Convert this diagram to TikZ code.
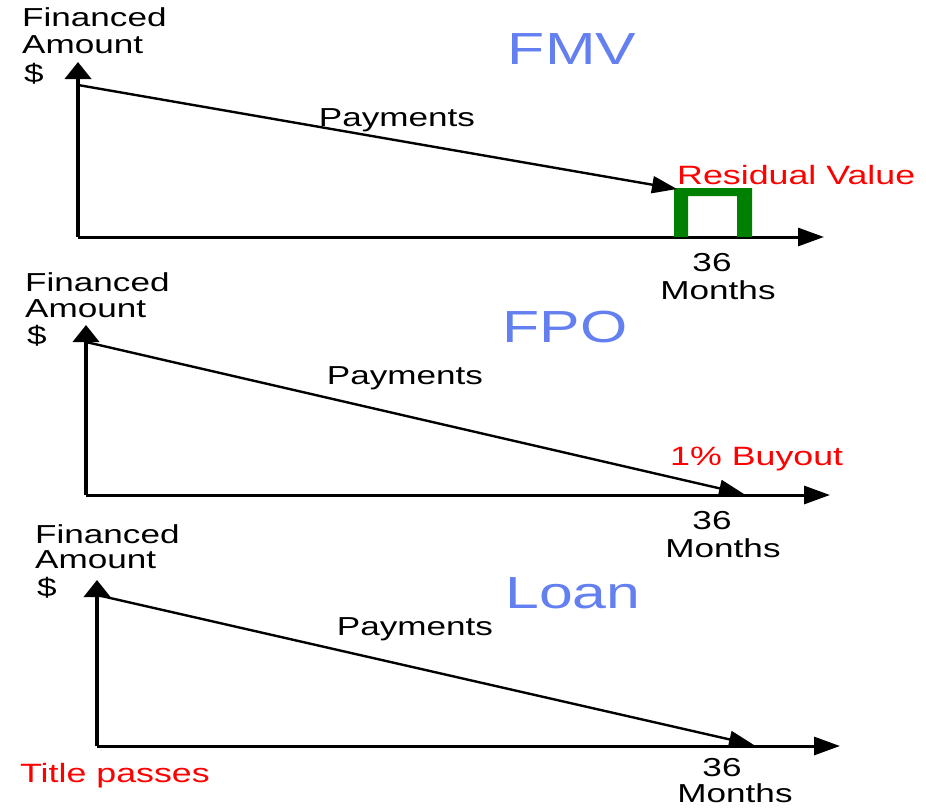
\documentclass[tikz,border=0pt]{standalone}
\usepackage{fontspec}
\newfontfamily\arialx{Liberation Sans}[FakeStretch=1.35]
\usetikzlibrary{arrows.meta}
\definecolor{ttlblue}{RGB}{100,128,240}
\definecolor{lblred}{RGB}{255,0,0}
\definecolor{resgreen}{RGB}{0,128,0}
\tikzset{
  lbl/.style={inner sep=0pt, font=\arialx\fontsize{26}{30}\selectfont, text=black},
  redlbl/.style={inner sep=0pt, font=\arialx\fontsize{26.5}{30}\selectfont, text=lblred},
  ttl/.style={inner sep=0pt, font=\arialx\fontsize{45}{50}\selectfont, text=ttlblue, anchor=base},
  xaxis/.style={line width=3pt, -{Triangle[length=26pt,width=18pt]}},
  yaxis/.style={line width=3.8pt, -{Triangle[length=17pt,width=26pt]}},
  pay/.style={line width=2.4pt, -{Triangle[length=25pt,width=17pt]}},
}
\begin{document}
\begin{tikzpicture}[x=1pt,y=-1pt]
\useasboundingbox (0,0) rectangle (926,808);
% ---------- FMV ----------
\coordinate (o1) at (78,237);
\coordinate (y1) at (78,62);
\coordinate (x1) at (824,237);
\coordinate (p1s) at (78,85);
\coordinate (p1e) at (677,189);
\draw[yaxis] (o1) -- (y1);
\draw[xaxis] (o1) -- (x1);
\fill[resgreen] (674,237) -- (674,188) -- (752,188) -- (752,237) -- (737,237)
  -- (737,196) -- (688,196) -- (688,237) -- cycle;
\draw[pay] (p1s) -- (p1e);
\node[lbl, anchor=base west] (fa1) at (22,27) {Financed};
\node[lbl, anchor=base west] (fb1) at (22,54) {Amount};
\node[lbl, anchor=base west] (fc1) at (24,82) {\$};
\node[lbl, anchor=base] (pm1) at (397,126) {Payments};
\node[ttl] (t1) at (572,64) {FMV};
\node[redlbl, anchor=base west] (rv) at (677,184) {Residual Value};
\node[lbl, anchor=base] (n1) at (712,271) {36};
\node[lbl, anchor=base] (m1) at (718,299) {Months};
% ---------- FPO ----------
\coordinate (o2) at (86,495);
\coordinate (y2) at (86,325);
\coordinate (x2) at (830,495);
\coordinate (p2s) at (86,342);
\coordinate (p2e) at (744,494);
\draw[yaxis] (o2) -- (y2);
\draw[xaxis] (o2) -- (x2);
\draw[pay] (p2s) -- (p2e);
\node[lbl, anchor=base west] (fa2) at (25,291) {Financed};
\node[lbl, anchor=base west] (fb2) at (25,317) {Amount};
\node[lbl, anchor=base west] (fc2) at (27,344) {\$};
\node[lbl, anchor=base] (pm2) at (405,384) {Payments};
\node[ttl] (t2) at (565,342) {FPO};
\node[redlbl, anchor=base west] (bo) at (670,465) {1\% Buyout};
\node[lbl, anchor=base] (n2) at (712,529) {36};
\node[lbl, anchor=base] (m2) at (723,557) {Months};
% ---------- Loan ----------
\coordinate (o3) at (97,746);
\coordinate (y3) at (97,580);
\coordinate (x3) at (840,746);
\coordinate (p3s) at (97,595);
\coordinate (p3e) at (754,745);
\draw[yaxis] (o3) -- (y3);
\draw[xaxis] (o3) -- (x3);
\draw[pay] (p3s) -- (p3e);
\node[lbl, anchor=base west] (fa3) at (35,543) {Financed};
\node[lbl, anchor=base west] (fb3) at (35,568) {Amount};
\node[lbl, anchor=base west] (fc3) at (37,596) {\$};
\node[lbl, anchor=base] (pm3) at (415,635) {Payments};
\node[ttl] (t3) at (573,608) {Loan};
\node[redlbl, anchor=base west] (tp) at (20,782) {Title passes};
\node[lbl, anchor=base] (n3) at (722,776) {36};
\node[lbl, anchor=base] (m3) at (735,802) {Months};
\end{tikzpicture}
\end{document}
